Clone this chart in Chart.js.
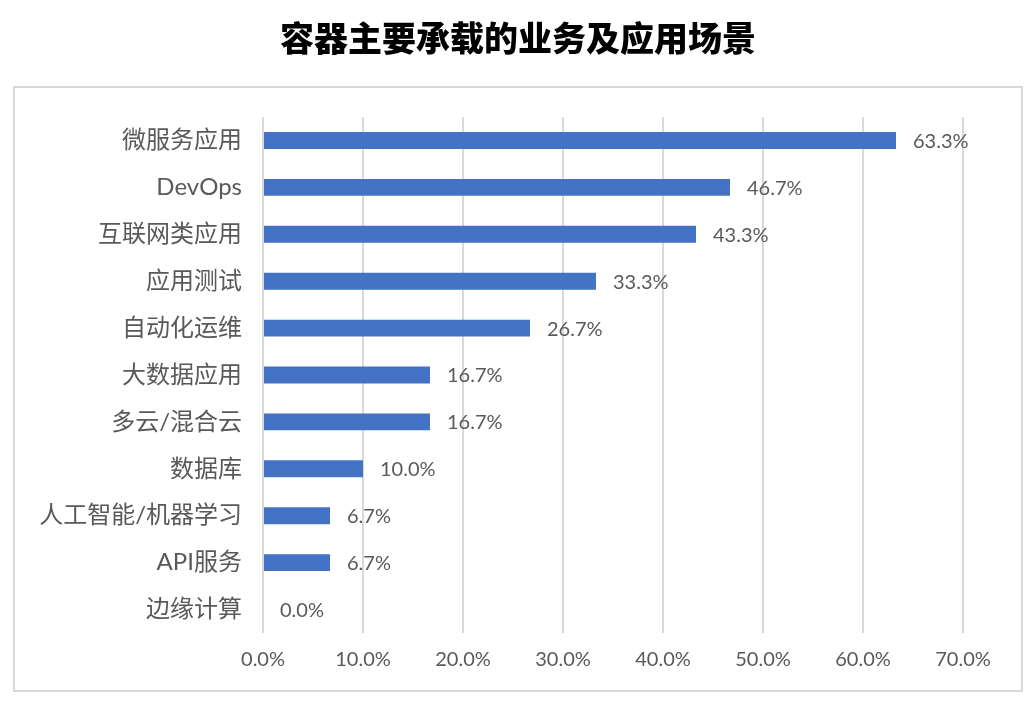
<!DOCTYPE html>
<html>
<head>
<meta charset="utf-8">
<script src="https://cdn.jsdelivr.net/npm/chart.js@4"></script>
<style>
  html, body { margin: 0; padding: 0; background: #fff; }
  #wrap { position: relative; width: 1036px; height: 704px; }
</style>
</head>
<body>
<div id="wrap"><canvas id="c" width="1036" height="704"></canvas></div>
<script>
const categories = ['微服务应用', 'DevOps', '互联网类应用', '应用测试', '自动化运维', '大数据应用', '多云/混合云', '数据库', '人工智能/机器学习', 'API服务', '边缘计算'];
const values = [63.3, 46.7, 43.3, 33.3, 26.7, 16.7, 16.7, 10.0, 6.7, 6.7, 0.0];
const xTicks = [0, 10, 20, 30, 40, 50, 60, 70];
const chartTitle = '容器主要承载的业务及应用场景';

const FONT = "Lato, 'Noto Sans CJK SC', sans-serif";
const GREY = '#595959';

// title above the frame, and light grey frame around the plot
const framePlugin = {
  id: 'frame',
  beforeDraw(chart) {
    const ctx = chart.ctx;
    ctx.save();
    ctx.strokeStyle = '#d9d9d9';
    ctx.lineWidth = 2;
    ctx.strokeRect(14, 87, 1008, 604);
    ctx.fillStyle = '#000';
    ctx.font = "900 34px 'Noto Sans CJK SC', sans-serif";
    ctx.textAlign = 'center';
    ctx.textBaseline = 'middle';
    ctx.fillText(chartTitle, 518, 38);
    ctx.restore();
  }
};

// value labels right of each bar
const valueLabels = {
  id: 'valueLabels',
  afterDatasetsDraw(chart) {
    const ctx = chart.ctx;
    const meta = chart.getDatasetMeta(0);
    ctx.save();
    ctx.font = '20px ' + FONT;
    ctx.fillStyle = GREY;
    ctx.textAlign = 'left';
    ctx.textBaseline = 'middle';
    meta.data.forEach((bar, i) => {
      ctx.fillText(values[i].toFixed(1) + '%', bar.x + 17, bar.y + 1);
    });
    ctx.restore();
  }
};

new Chart(document.getElementById('c'), {
  type: 'bar',
  data: {
    labels: categories,
    datasets: [{
      data: values,
      backgroundColor: '#4472C4',
      categoryPercentage: 1,
      barPercentage: 0.36
    }]
  },
  options: {
    indexAxis: 'y',
    responsive: false,
    animation: false,
    layout: { padding: { left: 20, right: 73, top: 117, bottom: 21 } },
    scales: {
      x: {
        min: 0,
        max: 70,
        afterBuildTicks(scale) { scale.ticks = xTicks.map(v => ({ value: v })); },
        afterFit(scale) { scale.height = 50; },
        grid: { color: '#d9d9d9', lineWidth: 2, drawTicks: false },
        border: { display: false },
        ticks: {
          padding: 15,
          color: GREY,
          font: { family: FONT, size: 20 },
          callback: v => v.toFixed(1) + '%'
        }
      },
      y: {
        afterFit(scale) { scale.width = 243; },
        grid: { display: false, drawTicks: false },
        border: { display: false },
        ticks: {
          padding: 21,
          color: GREY,
          font: { family: FONT, size: 24 }
        }
      }
    },
    plugins: {
      legend: { display: false },
      tooltip: { enabled: false },
      title: { display: false }
    }
  },
  plugins: [framePlugin, valueLabels]
});
</script>
</body>
</html>
